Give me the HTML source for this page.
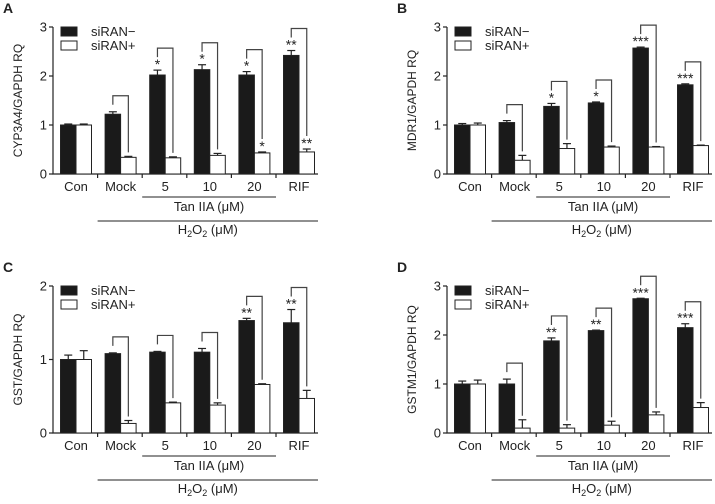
<!DOCTYPE html>
<html><head><meta charset="utf-8"><style>
html,body{margin:0;padding:0;background:#fff;}
svg text{font-family:"Liberation Sans",sans-serif;fill:#222;}
</style></head><body>
<svg id="fig" width="715" height="499" viewBox="0 0 715 499" xmlns="http://www.w3.org/2000/svg"></svg>
<script>
const categories = ['Con','Mock','5','10','20','RIF'];
const panelLetters = ['A','B','C','D'];
const yTitles = ['CYP3A4/GAPDH RQ','MDR1/GAPDH RQ','GST/GAPDH RQ','GSTM1/GAPDH RQ'];
const yMaxes = [3,3,2,3];
const blackA = [1,1.22,2.02,2.13,2.02,2.42];
const whiteA = [1,0.34,0.33,0.38,0.43,0.45];
const blackErrA = [.02,.05,.1,.1,.07,.1];
const whiteErrA = [.02,.02,.02,.04,.02,.06];
const blackStarA = ['','','*','*','*','**'];
const whiteStarA = ['','','','','*','**'];
const blackB = [1,1.05,1.38,1.45,2.57,1.82];
const whiteB = [1,0.28,0.52,0.55,0.55,0.58];
const blackErrB = [.03,.04,.06,.02,.02,.02];
const whiteErrB = [.04,.1,.1,.02,.01,.01];
const blackStarB = ['','','*','*','***','***'];
const whiteStarB = ['','','','','',''];
const blackC = [1,1.08,1.1,1.1,1.53,1.5];
const whiteC = [1,0.13,0.41,0.38,0.66,0.47];
const blackErrC = [.06,.01,.01,.05,.03,.18];
const whiteErrC = [.12,.04,.01,.03,.01,.11];
const blackStarC = ['','','','','**','**'];
const whiteStarC = ['','','','','',''];
const blackD = [1,1,1.88,2.09,2.74,2.15];
const whiteD = [1,0.1,0.1,0.16,0.37,0.52];
const blackErrD = [.06,.1,.06,.01,.01,.08];
const whiteErrD = [.08,.17,.07,.08,.06,.1];
const blackStarD = ['','','**','**','***','***'];
const whiteStarD = ['','','','','',''];

const panels = [
 {b:blackA,w:whiteA,be:blackErrA,we:whiteErrA,bs:blackStarA,ws:whiteStarA,dx:0,dy:0},
 {b:blackB,w:whiteB,be:blackErrB,we:whiteErrB,bs:blackStarB,ws:whiteStarB,dx:394,dy:0},
 {b:blackC,w:whiteC,be:blackErrC,we:whiteErrC,bs:blackStarC,ws:whiteStarC,dx:0,dy:259},
 {b:blackD,w:whiteD,be:blackErrD,we:whiteErrD,bs:blackStarD,ws:whiteStarD,dx:394,dy:259}
];
const NS='http://www.w3.org/2000/svg';
const svg=document.getElementById('fig');
function mk(tag,attrs,parent,txt){const e=document.createElementNS(NS,tag);for(const k in attrs)e.setAttribute(k,attrs[k]);if(txt!==undefined)e.textContent=txt;parent.appendChild(e);return e;}
const X0=53,Y0=174,H=147,GW=44.6,BW=15.5;
panels.forEach((p,pi)=>{
  const g=mk('g',{transform:`translate(${p.dx},${p.dy})`},svg);
  
  
  const ymax=yMaxes[pi];
  const y=v=>Y0-v/ymax*H;
  const gx=i=>X0+23+i*GW;
  let t=mk('text',{x:3,y:13,'font-size':14,'font-weight':'bold'},g,panelLetters[pi]);
  
  const ax=mk('path',{d:`M${X0},${y(ymax)}V${Y0}H${X0+265}`,stroke:'#222','stroke-width':1.2,fill:'none'},g);
  
  for(let v=0;v<=ymax;v++){
    mk('line',{x1:X0-4,x2:X0,y1:y(v),y2:y(v),stroke:'#222','stroke-width':1.2},g);
    const tl=mk('text',{x:X0-6,y:y(v)+4.5,'font-size':13,'text-anchor':'end'},g,String(v));
    
  }
  for(let i=1;i<6;i++) mk('line',{x1:X0+i*GW,x2:X0+i*GW,y1:Y0,y2:Y0+4,stroke:'#222','stroke-width':1.2},g);
  const yt=mk('text',{transform:`translate(22,${(y(ymax)+Y0)/2}) rotate(-90)`,'font-size':12,'text-anchor':'middle'},g,yTitles[pi]);
  
  categories.forEach((c,i)=>{
    const cx=gx(i);
    const bx=cx-BW, wx=cx;
    const bt=p.b[i]+p.be[i], wt=p.w[i]+p.we[i];
    mk('line',{x1:bx+BW/2,x2:bx+BW/2,y1:y(p.b[i]),y2:y(bt),stroke:'#222','stroke-width':1.2},g);
    mk('line',{x1:bx+BW/2-4,x2:bx+BW/2+4,y1:y(bt),y2:y(bt),stroke:'#222','stroke-width':1.2},g);
    mk('line',{x1:wx+BW/2,x2:wx+BW/2,y1:y(p.w[i]),y2:y(wt),stroke:'#222','stroke-width':1.2},g);
    mk('line',{x1:wx+BW/2-4,x2:wx+BW/2+4,y1:y(wt),y2:y(wt),stroke:'#222','stroke-width':1.2},g);
    const r1=mk('rect',{x:bx,y:y(p.b[i]),width:BW,height:Y0-y(p.b[i]),fill:'#1a1a1a',stroke:'#222','stroke-width':1},g);
    
    const r2=mk('rect',{x:wx,y:y(p.w[i]),width:BW,height:Y0-y(p.w[i]),fill:'#fff',stroke:'#222','stroke-width':1},g);
    
    if(p.bs[i]) mk('text',{x:bx+BW/2,y:y(bt)-1,'font-size':14,'text-anchor':'middle'},g,p.bs[i]);
    if(p.ws[i]) mk('text',{x:wx+BW/2,y:y(wt)-1,'font-size':14,'text-anchor':'middle'},g,p.ws[i]);
    if(i>0){
      const bTop=y(bt)-(p.bs[i]?13:7);
      const top=bTop-9;
      const wBot=y(wt)-(p.ws[i]?13:4);
      const br=mk('path',{d:`M${bx+BW/2},${bTop}V${top}H${wx+BW/2}V${wBot}`,stroke:'#444','stroke-width':1.2,fill:'none'},g);
      
    }
    const cl=mk('text',{x:cx,y:Y0+17,'font-size':13,'text-anchor':'middle'},g,c);
    
  });
  mk('line',{x1:X0+2*GW,x2:X0+5*GW,y1:197,y2:197,stroke:'#222','stroke-width':1},g);
  let tl2=mk('text',{x:X0+3.5*GW,y:211,'font-size':13,'text-anchor':'middle'},g,'Tan IIA (μM)');
  
  mk('line',{x1:X0+GW,x2:X0+265,y1:221,y2:221,stroke:'#222','stroke-width':1},g);
  let h=mk('text',{x:X0+GW+(265-GW)/2,y:234,'font-size':13,'text-anchor':'middle'},g);
  
  h.innerHTML='H<tspan font-size="9" dy="3">2</tspan><tspan dy="-3">O</tspan><tspan font-size="9" dy="3">2</tspan><tspan dy="-3"> (μM)</tspan>';
  const lg=mk('g',{},g);
  mk('rect',{x:61,y:27,width:16,height:9,fill:'#1a1a1a',stroke:'#222'},lg);
  mk('rect',{x:61,y:41,width:16,height:9,fill:'#fff',stroke:'#222'},lg);
  mk('text',{x:91,y:36,'font-size':13},lg,'siRAN−');
  mk('text',{x:91,y:50,'font-size':13},lg,'siRAN+');
});
</script>
</body></html>
